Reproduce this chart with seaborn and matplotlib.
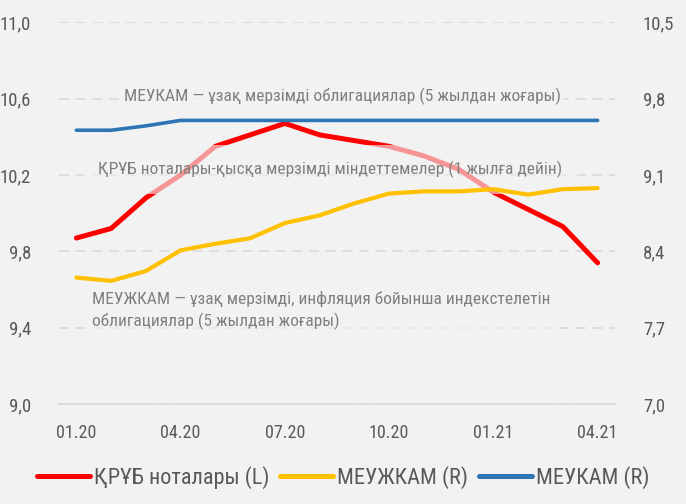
import numpy as np
import pandas as pd
import seaborn as sns
import matplotlib
matplotlib.use("Agg")
import matplotlib.pyplot as plt
from matplotlib import font_manager
from matplotlib.ticker import FuncFormatter, FixedLocator

# Data
months = ["01.20", "02.20", "03.20", "04.20", "05.20", "06.20", "07.20", "08.20",
          "09.20", "10.20", "11.20", "12.20", "01.21", "02.21", "03.21", "04.21"]
kruab = [9.87, 9.92, 10.08, 10.20, 10.35, 10.41, 10.47, 10.41,
         10.38, 10.35, 10.30, 10.23, 10.11, 10.02, 9.93, 9.74]
meuzhkam = [8.16, 8.13, 8.22, 8.41, 8.47, 8.52, 8.66, 8.73,
            8.84, 8.93, 8.95, 8.95, 8.97, 8.92, 8.97, 8.98]
meukam = [9.51, 9.51, 9.55, 9.60, 9.60, 9.60, 9.60, 9.60,
          9.60, 9.60, 9.60, 9.60, 9.60, 9.60, 9.60, 9.60]
tick_months = ["01.20", "04.20", "07.20", "10.20", "01.21", "04.21"]

legend_labels = ["ҚРҰБ ноталары (L)", "МЕУЖКАМ (R)", "МЕУКАМ (R)"]
note_meukam = "МЕУКАМ — ұзақ мерзімді облигациялар (5 жылдан жоғары)"
note_kruab = "ҚРҰБ ноталары-қысқа мерзімді міндеттемелер (1 жылға дейін)"
note_meuzhkam = ("МЕУЖКАМ — ұзақ мерзімді, инфляция бойынша индекстелетін\n"
                 "облигациялар (5 жылдан жоғары)")

df = pd.DataFrame({"month": months, "kruab": kruab,
                   "meuzhkam": meuzhkam, "meukam": meukam})
df["pos"] = np.arange(len(df))

sns.set_style("white")
installed = {f.name for f in font_manager.fontManager.ttflist}
fams = [f for f in ["Roboto Condensed", "Liberation Sans Narrow", "Noto Sans Condensed",
                    "Open Sans Condensed", "Roboto"] if f in installed]
plt.rcParams["font.family"] = fams[:1] + ["DejaVu Sans"]

bg = "#F2F2F2"
red, yellow, blue = "#FF0000", "#FFC000", "#2E75B6"
tick_col = "#595959"
note_col = "#7F7F7F"
grid_col = "#D9D9D9"

fig, ax = plt.subplots(figsize=(6.86, 5.04), dpi=100)
fig.patch.set_facecolor(bg)
ax.set_facecolor(bg)
fig.subplots_adjust(left=0.086, right=0.8965, bottom=0.198, top=0.956)
ax2 = ax.twinx()

sns.lineplot(data=df, x="pos", y="kruab", ax=ax, color=red, lw=3.6,
             solid_capstyle="round", label=legend_labels[0], legend=False)
sns.lineplot(data=df, x="pos", y="meuzhkam", ax=ax2, color=yellow, lw=3.0,
             solid_capstyle="round", label=legend_labels[1], legend=False, zorder=11)
sns.lineplot(data=df, x="pos", y="meukam", ax=ax2, color=blue, lw=2.6,
             solid_capstyle="round", label=legend_labels[2], legend=False, zorder=11)

ax.set_xlim(-0.5, len(df) - 0.5)
ax.set_ylim(9.0, 11.0)
ax2.set_ylim(7.0, 10.5)
ax.set_yticks(np.arange(9.0, 11.01, 0.4))
ax2.set_yticks(np.arange(7.0, 10.51, 0.7))
fmt = FuncFormatter(lambda v, p: f"{v:.1f}".replace(".", ","))
ax.yaxis.set_major_formatter(fmt)
ax2.yaxis.set_major_formatter(fmt)

tick_pos = [months.index(m) for m in tick_months]
ax.set_xticks(tick_pos)
ax.set_xticklabels(tick_months)
ax.xaxis.set_minor_locator(FixedLocator([p - 0.5 for p in tick_pos]))
ax.tick_params(axis="x", which="major", length=0, pad=14, labelsize=13, labelcolor=tick_col)
ax.tick_params(axis="x", which="minor", length=6, width=1, color=grid_col)
ax.tick_params(axis="y", length=0, pad=20, labelsize=13.5, labelcolor=tick_col)
ax2.tick_params(axis="y", length=0, pad=20, labelsize=13.5, labelcolor=tick_col)
ax.set_xlabel("")
ax.set_ylabel("")
ax2.set_ylabel("")

ax.yaxis.grid(True, color=grid_col, lw=1.2, linestyle=(0, (6, 4)))
ax.set_axisbelow(True)
for a in (ax, ax2):
    for s in ("top", "left", "right"):
        a.spines[s].set_visible(False)
    a.spines["bottom"].set_color(grid_col)
    a.spines["bottom"].set_linewidth(1.2)
ax2.spines["bottom"].set_visible(False)

# Annotations: background-coloured, semi-transparent boxes soften what lies below
ax2.text(1.38, 7.0 + (10.61 - 9.0) / 2.0 * 3.5, note_meukam, ha="left", va="center",
         fontsize=12.5, color=note_col, zorder=10,
         bbox=dict(boxstyle="square,pad=0.15", fc=bg, ec="none", alpha=0.85))
ax2.text(0.63, 7.0 + (10.23 - 9.0) / 2.0 * 3.5, note_kruab, ha="left", va="center",
         fontsize=12.5, color=note_col, zorder=10,
         bbox=dict(boxstyle="square,pad=0.9", fc=bg, ec="none", alpha=0.62))
ax2.text(0.46, 7.0 + (9.49 - 9.0) / 2.0 * 3.5, note_meuzhkam, ha="left", va="center",
         fontsize=12.5, color=note_col, linespacing=1.4, zorder=10,
         bbox=dict(boxstyle="square,pad=0.1", fc=bg, ec="none", alpha=0.6))

handles = ax.get_lines() + ax2.get_lines()
leg = fig.legend(handles, legend_labels, loc="lower center", ncol=3, frameon=False,
                 bbox_to_anchor=(0.5, -0.01), fontsize=16, handlelength=2.4,
                 handletextpad=0.15, columnspacing=0.5, labelcolor=tick_col)
for h in leg.legend_handles:
    h.set_linewidth(3.6)

fig.savefig("out.png", dpi=100, facecolor=bg)
